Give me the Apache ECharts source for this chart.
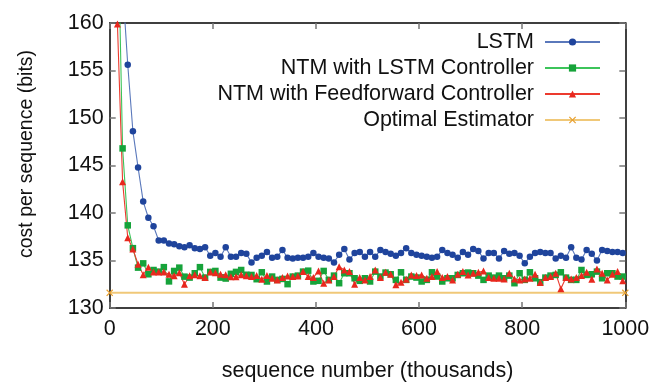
<!DOCTYPE html>
<html>
<head>
<meta charset="utf-8">
<script src="https://cdn.jsdelivr.net/npm/echarts@6/dist/echarts.min.js"></script>
<style>
html,body{margin:0;padding:0;background:#fff;}
#c{width:654px;height:387px;}
</style>
</head>
<body>
<div id="c"></div>
<script>
// x positions (thousands of sequences)
var steps = [5,15,25,35,45,55,65,75,85,95,105,115,125,135,145,155,165,175,185,195,
  205,215,225,235,245,255,265,275,285,295,305,315,325,335,345,355,365,375,385,395,
  405,415,425,435,445,455,465,475,485,495,505,515,525,535,545,555,565,575,585,595,
  605,615,625,635,645,655,665,675,685,695,705,715,725,735,745,755,765,775,785,795,
  805,815,825,835,845,855,865,875,885,895,905,915,925,935,945,955,965,975,985,995];

var lstm = [210,185,164,155.6,148.6,144.8,141.2,139.5,138.6,137.1,137.1,136.8,136.7,136.5,136.4,136.6,136.3,136.2,136.4,135.5,
  135.8,135.4,136.4,135.4,135.4,135.8,135.7,134.8,135.3,135.5,135.9,135.3,135.4,136.1,135.3,135.2,135.3,135.3,135.4,135.8,
  135.4,135.3,135.2,134.8,135.6,136.2,135.1,135.8,135.9,135.4,135.9,135.4,136.1,135.9,135.7,135.5,135.8,136.3,135.8,135.6,
  135.5,135.4,135.3,135.4,136.1,135.8,135.6,135.3,135.9,135.6,136.2,136.0,135.2,135.8,135.8,135.2,136.0,135.7,135.8,135.5,
  134.7,135.4,135.8,135.9,135.8,135.8,135.2,135.5,135.3,136.4,135.3,135.1,136.1,135.7,135.0,136.1,136.0,135.9,135.9,135.8];

var ntmLstm = [200,173,146.8,138.7,136.3,134.25,134.7,133.55,134.0,133.83,134.3,132.8,133.9,134.25,133.3,133.2,133.66,134.3,133.2,133.8,
  133.9,133.2,133.1,133.6,133.8,134.0,133.5,133.48,133.03,133.76,132.79,133.31,132.96,133.06,132.51,133.31,133.41,133.83,133.93,132.79,
  132.86,133.9,132.96,133.41,132.61,133.66,133.66,133.13,132.86,133.13,132.79,133.83,133.31,133.73,133.55,132.96,133.76,132.96,133.31,133.2,
  132.79,132.96,133.76,133.31,132.79,133.13,133.13,133.48,133.66,133.73,133.66,133.41,132.96,133.41,133.2,133.41,133.13,133.41,132.61,133.66,
  132.96,133.76,133.13,132.72,133.2,133.41,133.48,133.76,133.2,132.96,132.96,134.0,133.48,133.55,133.83,133.13,133.66,133.66,133.31,133.31];

var ntmFf = [185,159.9,143.3,137.4,136.2,134.6,133.5,134.3,133.8,133.8,133.8,133.55,133.4,133.7,132.5,133.4,133.5,133.4,133.2,133.8,
  133.7,133.55,133.5,133.3,133.3,133.5,133.4,133.31,133.41,133.03,133.41,133.13,132.96,133.2,133.38,133.31,133.38,133.83,133.31,133.2,
  133.9,132.61,132.96,133.31,134.35,134.0,133.83,132.51,133.2,132.96,133.31,134.0,133.2,133.76,133.55,132.44,132.72,133.03,133.48,133.41,
  133.48,133.13,133.31,133.83,133.2,133.31,132.96,133.55,133.83,133.48,133.66,133.76,133.9,133.2,133.13,133.13,133.06,133.66,133.06,132.96,
  133.06,133.13,133.55,132.68,133.2,133.31,133.66,132.02,133.2,133.06,133.2,133.41,133.76,133.03,134.1,133.66,132.96,133.55,133.83,132.86];

var optimalX = [0, 1000];
var optimalY = [131.6, 131.6];

var names = ['LSTM', 'NTM with LSTM Controller', 'NTM with Feedforward Controller', 'Optimal Estimator'];
var xTicks = [0, 200, 400, 600, 800, 1000];
var yTicks = [130, 135, 140, 145, 150, 155, 160];

function pairs(xs, ys) { var out = []; for (var i = 0; i < ys.length; i++) out.push([xs[i], ys[i]]); return out; }

var FONT = '"Liberation Sans", Arial, Helvetica, sans-serif';
var crossPath = 'path://M0,1.2 L1.2,0 L5,3.8 L8.8,0 L10,1.2 L6.2,5 L10,8.8 L8.8,10 L5,6.2 L1.2,10 L0,8.8 L3.8,5 Z';

var chart = echarts.init(document.getElementById('c'), null, {renderer: 'canvas'});
var frameLine = {show: true, onZero: false, lineStyle: {color: '#000', width: 1.5}};
var tick = {show: true, inside: true, length: 6, lineStyle: {color: '#777', width: 1.5}};

chart.setOption({
  animation: false,
  backgroundColor: '#fff',
  grid: {left: 109.7, right: 28.7, top: 23, bottom: 77, containLabel: false},
  xAxis: [{
    type: 'value', min: xTicks[0], max: xTicks[xTicks.length - 1], interval: 200, position: 'bottom',
    axisLine: frameLine, axisTick: tick, splitLine: {show: false},
    axisLabel: {fontSize: 21.5, fontFamily: FONT, color: '#111', margin: 10, formatter: function (v) { return String(v); }},
    name: 'sequence number (thousands)', nameLocation: 'middle', nameGap: 52,
    nameTextStyle: {fontSize: 21.5, fontFamily: FONT, color: '#111'}
  }, {
    type: 'value', min: xTicks[0], max: xTicks[xTicks.length - 1], interval: 200, position: 'top',
    axisLine: frameLine, axisTick: tick, splitLine: {show: false}, axisLabel: {show: false}
  }],
  yAxis: [{
    type: 'value', min: yTicks[0], max: yTicks[yTicks.length - 1], interval: 5, position: 'left',
    axisLine: frameLine, axisTick: tick, splitLine: {show: false},
    axisLabel: {fontSize: 21.5, fontFamily: FONT, color: '#111', margin: 6}
  }, {
    type: 'value', min: yTicks[0], max: yTicks[yTicks.length - 1], interval: 5, position: 'right',
    axisLine: frameLine, axisTick: tick, splitLine: {show: false}, axisLabel: {show: false}
  }],
  legend: {
    orient: 'vertical', right: 48, top: 26, align: 'right',
    itemWidth: 55, itemHeight: 9, itemGap: 4,
    textStyle: {fontSize: 21.5, fontFamily: FONT, color: '#111', lineHeight: 22, padding: [0, 6, 0, 0]},
    data: names
  },
  graphic: [{
    type: 'text', x: 27, y: 154, rotation: Math.PI / 2,
    style: {text: 'cost per sequence (bits)', font: '19.5px ' + FONT, fill: '#111', textAlign: 'center', textVerticalAlign: 'middle'}
  }],
  series: [{
    name: names[0], type: 'line', data: pairs(steps, lstm), clip: true,
    symbol: 'circle', symbolSize: 6.5,
    itemStyle: {color: '#1f449c'}, lineStyle: {color: '#5a78bb', width: 1.1}
  }, {
    name: names[1], type: 'line', data: pairs(steps, ntmLstm), clip: true,
    symbol: 'rect', symbolSize: 6.5,
    itemStyle: {color: '#16a33a'}, lineStyle: {color: '#3cc45a', width: 1.1}
  }, {
    name: names[2], type: 'line', data: pairs(steps, ntmFf), clip: true,
    symbol: 'triangle', symbolSize: 7,
    itemStyle: {color: '#e8281e'}, lineStyle: {color: '#ec3a2e', width: 1.1}
  }, {
    name: names[3], type: 'line', data: pairs(optimalX, optimalY), clip: false,
    symbol: crossPath, symbolSize: 7,
    itemStyle: {color: '#e8a030'}, lineStyle: {color: '#f0c878', width: 2}
  }]
});
</script>
</body>
</html>
